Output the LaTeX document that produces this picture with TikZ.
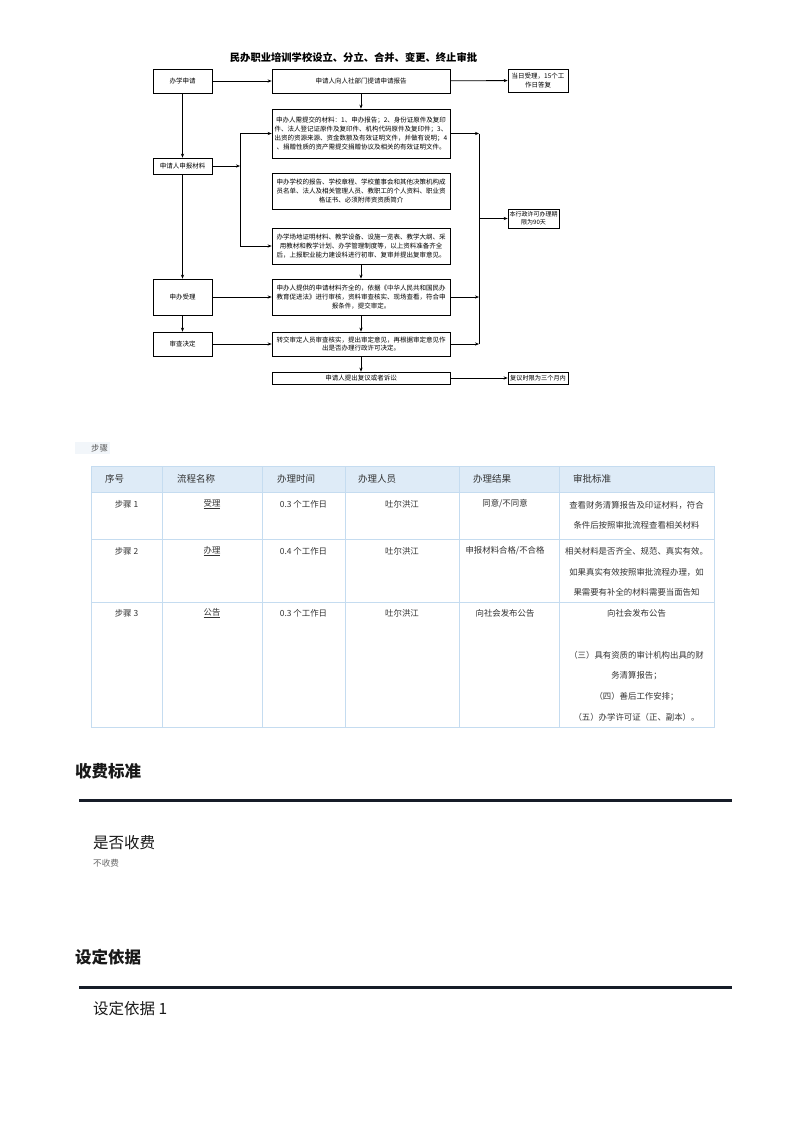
\documentclass[tikz,border=0pt]{standalone}
\usepackage{fontspec}
\setmainfont{Noto Sans CJK SC}
\usetikzlibrary{arrows.meta}
\definecolor{tblline}{RGB}{197,220,240}
\definecolor{tblhead}{RGB}{222,235,247}
\definecolor{txt}{RGB}{51,51,51}
\definecolor{rulec}{RGB}{22,28,40}
\definecolor{faint}{RGB}{242,246,250}
\begin{document}
\begin{tikzpicture}[x=1pt,y=-1pt,
 fbox/.style={draw=black,line width=0.7pt,inner sep=1pt,font=\fontsize{6.5}{8.7}\selectfont,align=center},
 farr/.style={-{Stealth[length=4pt,width=3.2pt]},line width=0.8pt},
 fline/.style={line width=0.8pt},
 cell/.style={font=\fontsize{8.4}{10}\selectfont,text=txt,inner sep=0pt},
 head/.style={font=\fontsize{9.5}{11}\selectfont,text=txt,anchor=west,inner sep=0pt},
 tline/.style={draw=tblline,line width=1pt},
 ]
\useasboundingbox (0,0) rectangle (793,1122);
\fill[white] (0,0) rectangle (793,1122);

% ---------- flowchart ----------
\node[font=\bfseries\fontsize{10.3}{12}\selectfont] (title) at (353.5,58) {民办职业培训学校设立、分立、合并、变更、终止审批};

\node[fbox,minimum width=59pt,minimum height=24pt] (apply) at (182.5,81) {办学申请};
\node[fbox,minimum width=178pt,minimum height=24pt] (report) at (361,81) {申请人向人社部门提请申请报告};
\node[fbox,minimum width=60pt,minimum height=23pt] (reply) at (538,80.5) {当日受理，15个工\\作日答复};
\node[fbox,minimum width=178pt,minimum height=49pt] (mat1) at (361,133.5) {申办人需提交的材料：1、申办报告；2、身份证原件及复印\\件、法人登记证原件及复印件、机构代码原件及复印件；3、\\出资的资源来源、资金数额及有效证明文件，并做有说明；4\\、捐赠性质的资产需提交捐赠协议及相关的有效证明文件。};
\node[fbox,minimum width=59pt,minimum height=16pt] (submit) at (182.5,166) {申请人申报材料};
\node[fbox,minimum width=178pt,minimum height=36pt] (mat2) at (361,191) {申办学校的报告、学校章程、学校董事会和其他决策机构成\\员名单、法人及相关管理人员、教职工的个人资料、职业资\\格证书、必须附师资资质简介};
\node[fbox,minimum width=178pt,minimum height=36pt] (mat3) at (361,246) {办学场地证明材料、教学设备、设施一览表、教学大纲、采\\用教材和教学计划、办学管理制度等，以上资料准备齐全\\后，上报职业能力建设科进行初审、复审并提出复审意见。};
\node[fbox,minimum width=51pt,minimum height=19pt,inner sep=0.5pt,font=\fontsize{6}{8}\selectfont] (limit) at (533.5,218.5) {本行政许可办理期\\限为90天};
\node[fbox,minimum width=59pt,minimum height=36pt] (accept) at (182.5,297) {申办受理};
\node[fbox,minimum width=178pt,minimum height=36pt] (review) at (361,297) {申办人提供的申请材料齐全的，依据《中华人民共和国民办\\教育促进法》进行审核，资料审查核实、现场查看，符合申\\报条件，提交审定。};
\node[fbox,minimum width=59pt,minimum height=24pt] (decide) at (182.5,344) {审查决定};
\node[fbox,minimum width=178pt,minimum height=24pt] (decbox) at (361,344) {转交审定人员审查核实，提出审定意见，再根据审定意见作\\出是否办理行政许可决定。};
\node[fbox,minimum width=178pt,minimum height=12pt] (appeal) at (361,378) {申请人提出复议或者诉讼};
\node[fbox,minimum width=60pt,minimum height=12pt,inner sep=0.5pt,font=\fontsize{6.2}{8}\selectfont] (appealtime) at (538,378) {复议时限为三个月内};

\coordinate (bl) at (240,166);
\coordinate (blt) at (240,133.5);
\coordinate (blb) at (240,246);
\coordinate (br1) at (479,133.5);
\coordinate (br2) at (479,297);
\coordinate (br3) at (479,344);
\coordinate (brm) at (479,218.5);

\draw[farr] (apply) -- (report);
\draw[farr] (report) -- (reply);
\draw[farr] (report) -- (mat1);
\draw[farr] (apply) -- (submit);
\draw[farr] (submit) -- (bl);
\draw[fline] (blt) -- (blb);
\draw[farr] (blt) -- (mat1.west);
\draw[farr] (blb) -- (mat3.west);
\draw[farr] (mat3) -- (review);
\draw[farr] (submit) -- (accept);
\draw[farr] (accept) -- (decide);
\draw[farr] (accept) -- (review);
\draw[farr] (decide) -- (decbox);
\draw[farr] (review) -- (decbox);
\draw[farr] (decbox) -- (appeal);
\draw[farr] (appeal) -- (appealtime);
\draw[farr] (mat1.east) -- (br1);
\draw[farr] (review.east) -- (br2);
\draw[farr] (decbox.east) -- (br3);
\draw[fline] (br1) -- (br3);
\draw[farr] (brm) -- (limit.west);

% ---------- table ----------
\fill[faint] (75,442) rectangle (110,454);
\node[cell,text=black!65] (steplabel) at (99.5,448) {步骤};

\fill[tblhead] (91,466) rectangle (714,492);
\draw[tline] (91,466) rectangle (714,727);
\foreach \yy in {492,539,602} \draw[tline] (91,\yy) -- (714,\yy);
\foreach \xx in {162,262,345,459,559} \draw[tline] (\xx,466) -- (\xx,727);

\node[head] (h1) at (105,479) {序号};
\node[head] (h2) at (177,479) {流程名称};
\node[head] (h3) at (277,479) {办理时间};
\node[head] (h4) at (358,479) {办理人员};
\node[head] (h5) at (473,479) {办理结果};
\node[head] (h6) at (573,479) {审批标准};

\node[cell] (r1c1) at (126.5,504) {步骤 1};
\node[cell] (r1c2) at (212,504) {\underline{受理}};
\node[cell] (r1c3) at (303.5,504) {0.3 个工作日};
\node[cell] (r1c4) at (402,504) {吐尔洪江};
\node[cell] (r1c5) at (505,504) {同意/不同意};
\node[cell] (r1c6a) at (636.5,505) {查看财务清算报告及印证材料，符合};
\node[cell] (r1c6b) at (636.5,525) {条件后按照审批流程查看相关材料};

\node[cell] (r2c1) at (126.5,551) {步骤 2};
\node[cell] (r2c2) at (212,551) {\underline{办理}};
\node[cell] (r2c3) at (303.5,551) {0.4 个工作日};
\node[cell] (r2c4) at (402,551) {吐尔洪江};
\node[cell] (r2c5) at (505,551) {申报材料合格/不合格};
\node[cell] (r2c6a) at (636.5,551) {相关材料是否齐全、规范、真实有效。};
\node[cell] (r2c6b) at (636.5,572) {如果真实有效按照审批流程办理，如};
\node[cell] (r2c6c) at (636.5,592) {果需要有补全的材料需要当面告知};

\node[cell] (r3c1) at (126.5,613) {步骤 3};
\node[cell] (r3c2) at (212,613) {\underline{公告}};
\node[cell] (r3c3) at (303.5,613) {0.3 个工作日};
\node[cell] (r3c4) at (402,613) {吐尔洪江};
\node[cell] (r3c5) at (505,613) {向社会发布公告};
\node[cell] (r3c6a) at (636.5,613) {向社会发布公告};
\node[cell] (r3c6b) at (636.5,655) {（三）具有资质的审计机构出具的财};
\node[cell] (r3c6c) at (636.5,676) {务清算报告；};
\node[cell] (r3c6d) at (636.5,697) {（四）善后工作安排；};
\node[cell] (r3c6e) at (636.5,717) {（五）办学许可证（正、副本）。};

% ---------- bottom ----------
\node[anchor=west,inner sep=0pt,font=\bfseries\fontsize{16.5}{18}\selectfont,text=black!90] (fee) at (75,771) {收费标准};
\draw[rulec,line width=3pt] (79,800.5) -- (732,800.5);
\node[anchor=west,inner sep=0pt,font=\fontsize{15.5}{17}\selectfont,text=black!90] (feeq) at (93,843) {是否收费};
\node[anchor=west,inner sep=0pt,font=\fontsize{8.6}{10}\selectfont,text=black!60] (feea) at (93,863) {不收费};
\node[anchor=west,inner sep=0pt,font=\bfseries\fontsize{16.5}{18}\selectfont,text=black!90] (basis) at (75,957) {设定依据};
\draw[rulec,line width=3pt] (79,987) -- (732,987);
\node[anchor=west,inner sep=0pt,font=\fontsize{15.5}{17}\selectfont,text=black!90] (basis1) at (93,1009) {设定依据 1};
\end{tikzpicture}
\end{document}
